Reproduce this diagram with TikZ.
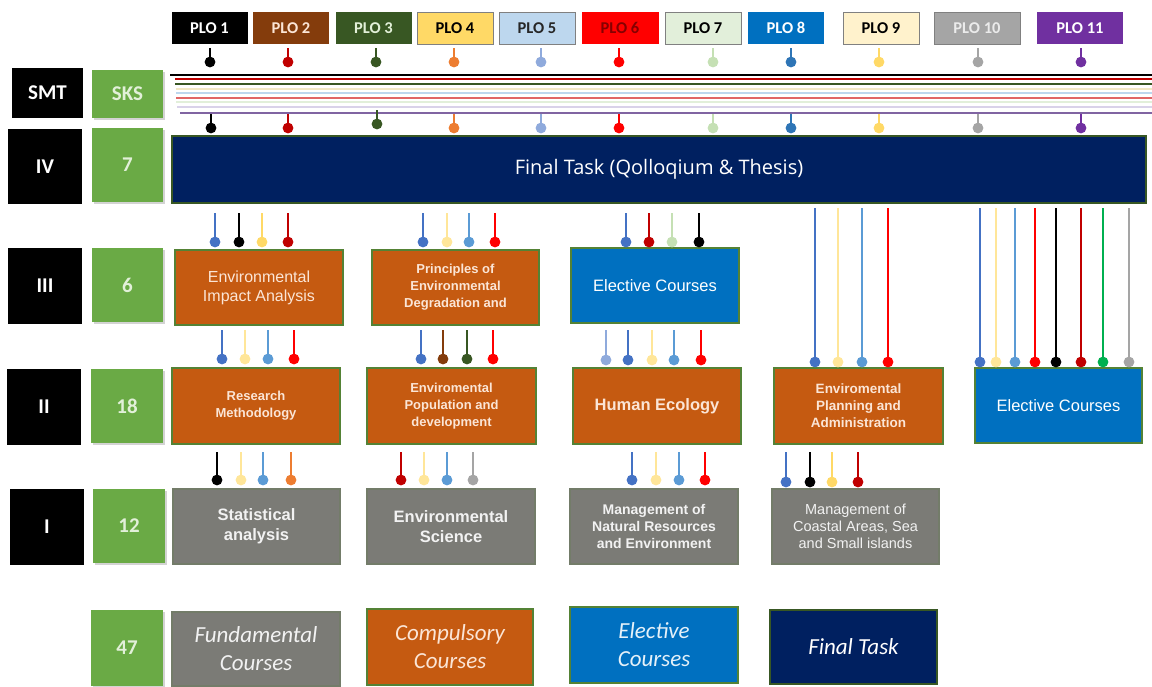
\documentclass[tikz,border=0pt]{standalone}
\usepackage{fontspec}
\setmainfont{Liberation Sans}
\newfontfamily\calib{Carlito}
\newfontfamily\opensans{Open Sans}
\usetikzlibrary{shadows}
\definecolor{cBlue}{HTML}{4472C4}
\definecolor{cLBlue}{HTML}{5B9BD5}
\definecolor{cYel}{HTML}{FFD966}
\definecolor{cLYel}{HTML}{FFE699}
\definecolor{cDRed}{HTML}{C00000}
\definecolor{cRed}{HTML}{FF0000}
\definecolor{cBrown}{HTML}{843C0C}
\definecolor{cDGreen}{HTML}{385723}
\definecolor{cOrange}{HTML}{ED7D31}
\definecolor{cGray}{HTML}{A5A5A5}
\definecolor{cLGreen}{HTML}{C5E0B4}
\definecolor{cPurple}{HTML}{7030A0}
\definecolor{cSteel}{HTML}{8FAADC}
\definecolor{cGreen}{HTML}{00B050}
\definecolor{cMidBlue}{HTML}{2E75B6}
\definecolor{boxOrange}{HTML}{C55A11}
\definecolor{boxBlue}{HTML}{0070C0}
\definecolor{boxGray}{HTML}{7B7B76}
\definecolor{boxNavy}{HTML}{002060}
\definecolor{edgeGreen}{HTML}{548235}
\definecolor{sksGreen}{HTML}{6AAA45}
\definecolor{txtPeach}{HTML}{FBE5D6}
\definecolor{txtGreen}{HTML}{E2F0D9}
\definecolor{pLYel}{HTML}{FFE699}
\definecolor{pLBlue}{HTML}{BDD7EE}
\definecolor{pLGreen}{HTML}{E2EFDA}
\definecolor{pCream}{HTML}{FFF2CC}
\definecolor{lnCream}{HTML}{F2E8C4}
\definecolor{lnRed}{HTML}{E06666}
\definecolor{lnLav}{HTML}{D9D2E9}
\definecolor{lnPurple}{HTML}{8064A2}
\newcommand\pinA[4]{\draw[line width=2.2pt,#4] (#1,#2) -- (#1,#3); \fill[#4] (#1,#3) circle (5.4);}
\tikzset{
  plo/.style={rectangle, inner sep=0, minimum height=32, font=\calib\bfseries\fontsize{16.5}{18}\selectfont, line width=1pt},
  smt/.style={rectangle, fill=black, inner sep=0, minimum width=74, minimum height=76, text=white, font=\calib\bfseries\fontsize{21}{23}\selectfont},
  sks/.style={rectangle, fill=sksGreen, inner sep=0, minimum width=71, minimum height=74, text=txtGreen, font=\calib\bfseries\fontsize{21}{23}\selectfont, drop shadow={opacity=0.35, shadow xshift=2pt, shadow yshift=-2pt}},
  course/.style={rectangle, inner sep=0, minimum width=168, minimum height=75, align=center, line width=1.6pt, draw=edgeGreen},
  comp/.style={course, fill=boxOrange, text=txtPeach},
  elec/.style={course, fill=boxBlue, text=white},
  fund/.style={course, fill=boxGray, text=white!95!black, draw=boxGray!80!edgeGreen},
  fin/.style={course, fill=boxNavy, text=white, draw=cDGreen},
  legend/.style={font=\calib\itshape\fontsize{23}{28}\selectfont}
}
\begin{document}
\begin{tikzpicture}[x=1pt,y=-1pt]
\useasboundingbox (0,0) rectangle (1152,686);
% PLO header
\node[plo, fill=black, text=white, minimum width=76] (p1) at (209.5,28) {PLO 1};
\node[plo, fill=cBrown, text=txtPeach, minimum width=76] (p2) at (291,28) {PLO 2};
\node[plo, fill=cDGreen, text=txtGreen, minimum width=76] (p3) at (373.5,28) {PLO 3};
\node[plo, fill=cYel, draw=gray, text=black, minimum width=76] (p4) at (455,28) {PLO 4};
\node[plo, fill=pLBlue, draw=gray, text=black!85, minimum width=76] (p5) at (537,28) {PLO 5};
\node[plo, fill=cRed, text=cDRed!70!black, minimum width=77] (p6) at (620,28) {PLO 6};
\node[plo, fill=pLGreen, draw=gray, text=black, minimum width=76] (p7) at (703,28) {PLO 7};
\node[plo, fill=boxBlue, text=white, minimum width=76] (p8) at (786,28) {PLO 8};
\node[plo, fill=pCream, draw=gray, text=black, minimum width=76] (p9) at (881,28) {PLO 9};
\node[plo, fill=cGray, draw=gray, text=white!92!black, minimum width=86] (p10) at (977,28) {PLO 10};
\node[plo, fill=cPurple, text=white, minimum width=86] (p11) at (1080,28) {PLO 11};
% top pins
\foreach \x/\c in {210/black,288/cDRed,376/cDGreen,454/cOrange,541/cSteel,619/cRed,713/cLGreen,791/cMidBlue,879/cYel,978/cGray,1081/cPurple}
  {\pinA{\x}{48}{62}{\c}}
% horizontal lines
\foreach \y/\c/\s in {75/black/170,79/cDRed/175,84/cDGreen/175,89/lnCream/176,93/pLBlue/176,98/lnRed/176,102/pLGreen/176,107/lnLav/177,113/lnPurple/180}
  {\draw[line width=1.4pt,\c] (\s,\y) -- (1152,\y);}
% second pins
\foreach \x/\c in {211/black,288/cDRed,454/cOrange,541/cSteel,619/cRed,713/cLGreen,791/cMidBlue,879/cYel,978/cGray,1081/cPurple}
  {\pinA{\x}{114}{128}{\c}}
\pinA{377}{110}{124}{cDGreen}
% left column
\node[smt, minimum width=71, minimum height=50] (smt) at (47.5,93) {SMT};
\node[sks, minimum height=48] (sks) at (127.5,94) {SKS};
\node[smt, minimum height=75] (s4) at (45,166.5) {IV};
\node[sks] (k4) at (127.5,165) {7};
\node[smt] (s3) at (45,286) {III};
\node[sks] (k3) at (127.5,285) {6};
\node[smt] (s2) at (44,407) {II};
\node[sks, minimum width=72] (k2) at (127,406) {18};
\node[smt] (s1) at (47,527) {I};
\node[sks, minimum width=72] (k1) at (129,526) {12};
\node[sks, minimum width=72, minimum height=76] (k0) at (127,648) {47};
% final task
\node[fin, minimum width=974, minimum height=67, font=\opensans\fontsize{20}{22}\selectfont] (ft) at (659,169.5) {Final Task (Qolloqium \& Thesis)};
% row III
\node[comp, font=\fontsize{16}{19}\selectfont] (eia) at (259,287.5) {Environmental\\Impact Analysis};
\node[comp, minimum width=167, font=\bfseries\fontsize{13}{17}\selectfont] (ped) at (455.5,287.5) {Principles of\\Environmental\\Degradation and};
\node[elec, font=\fontsize{16.5}{19}\selectfont] (el3) at (655,285.5) {Elective Courses};
% row II
\node[comp, minimum height=76, font=\bfseries\fontsize{13}{17}\selectfont] (rm) at (256,406) {Research\\Methodology};
\node[comp, minimum width=169, minimum height=76, font=\bfseries\fontsize{13}{17}\selectfont] (epd) at (451.5,406) {Enviromental\\Population and\\development};
\node[comp, minimum height=76, font=\bfseries\fontsize{16.5}{19}\selectfont] (he) at (657,406) {Human Ecology};
\node[comp, minimum width=169, minimum height=76, font=\bfseries\fontsize{13.5}{17}\selectfont] (epa) at (858.5,406) {Enviromental\\Planning and\\Administration};
\node[elec, minimum width=167, font=\fontsize{16.5}{19}\selectfont] (el2) at (1058.5,405.5) {Elective Courses};
% row I
\node[fund, minimum width=167, font=\bfseries\fontsize{16.5}{20}\selectfont] (sa) at (256.5,526.5) {Statistical\\analysis};
\node[fund, font=\bfseries\fontsize{16.5}{20}\selectfont] (es) at (451,526.5) {Environmental\\Science};
\node[fund, font=\bfseries\fontsize{14}{17}\selectfont] (mnr) at (654,526.5) {Management of\\Natural Resources\\and Environment};
\node[fund, minimum width=167, font=\fontsize{14.5}{17}\selectfont] (mc) at (855.5,526.5) {Management of\\Coastal Areas, Sea\\and Small islands};
% legend
\node[fund, legend, minimum height=74] (lf) at (256,649) {Fundamental\\Courses};
\node[comp, legend, minimum width=166, minimum height=76] (lc) at (450,647) {Compulsory\\Courses};
\node[elec, legend, minimum height=76, text=white!90!boxBlue] (le) at (654,645) {Elective\\Courses};
\node[fin, legend, minimum width=167, minimum height=74] (lt) at (853.5,647) {Final Task};
% row III pins
\foreach \x/\c in {215/cBlue,239/black,262/cYel,288/cDRed}{\pinA{\x}{213}{242}{\c}}
\foreach \x/\c in {423/cBlue,447/cLYel,469/cLBlue,495/cRed}{\pinA{\x}{213}{242}{\c}}
\foreach \x/\c in {626/cBlue,649/cDRed,672/cLGreen,699/black}{\pinA{\x}{213}{242}{\c}}
% long pins to row II
\foreach \x/\c in {815/cBlue,838/cLYel,862/cLBlue,888/cRed}{\pinA{\x}{208}{362}{\c}}
\foreach \x/\c in {980/cBlue,996/cLYel,1015/cLBlue,1035/cRed,1056/black,1081/cDRed,1103/cGreen,1129/cGray}{\pinA{\x}{208}{362}{\c}}
% row II pins
\foreach \x/\c in {222/cBlue,245/cLYel,268/cLBlue,294/cRed}{\pinA{\x}{330}{359}{\c}}
\foreach \x/\c in {421/cBlue,443/cBrown,467/cDGreen,493/cRed}{\pinA{\x}{330}{359}{\c}}
\foreach \x/\c in {606/cSteel,628/cBlue,652/cLYel,674/cLBlue,701/cRed}{\pinA{\x}{330}{360}{\c}}
% row I pins
\foreach \x/\c in {217/black,241/cLYel,263/cLBlue,291/cOrange}{\pinA{\x}{452}{480}{\c}}
\foreach \x/\c in {401/cDRed,424/cLYel,447/cLBlue,473/cGray}{\pinA{\x}{452}{480}{\c}}
\foreach \x/\c in {632/cBlue,656/cLYel,679/cLBlue,705/cRed}{\pinA{\x}{452}{480}{\c}}
\foreach \x/\c in {786/cBlue,810/black,832/cYel,858/cDRed}{\pinA{\x}{452}{482}{\c}}
\end{tikzpicture}
\end{document}
